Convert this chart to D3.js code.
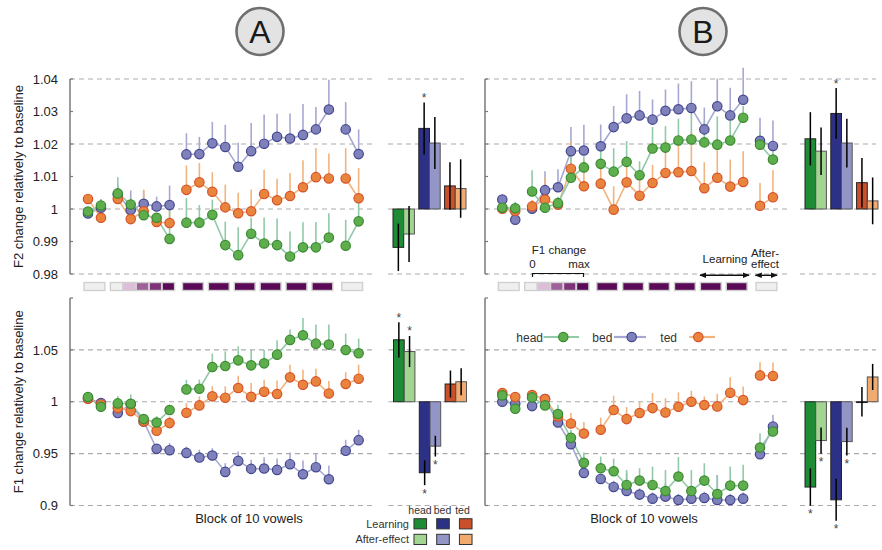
<!DOCTYPE html>
<html lang="en">
<head>
<meta charset="UTF-8">
<title>F1 / F2 change relatively to baseline</title>
<script src="https://cdn.jsdelivr.net/npm/d3@7"></script>
<style>
    body { margin: 0; background: #fff; }
    svg { display: block; font-family: "Liberation Sans", Arial, sans-serif; }
    .tick-label { font-size: 13px; fill: #222; }
    .axis-title { font-size: 13px; fill: #222; }
    .legend { font-size: 11px; fill: #333; }
</style>
</head>
<body>
<script>
    /*------------------- data -------------------*/
    // blocks of 10 vowels, split in baseline / ramp / learning / after-effect
    const blocks = [1, 2, 3, 4, 5, 6, 7, 8, 9, 10, 11, 12, 13, 14, 15, 16, 17, 18, 19, 20, 21];
    const blockGroups = [[1, 2], [3, 4, 5, 6, 7], [8, 9, 10, 11, 12, 13, 14, 15, 16, 17, 18, 19], [20, 21]];
    const vowels = ["head", "bed", "ted"];

    // panel A, F2
    const aF2Head = [0.9992, 1.0011, 1.0048, 1.0014, 0.9981, 0.9973, 0.9908, 0.9958, 0.9958, 0.9982, 0.9889, 0.9858, 0.9924, 0.9894, 0.9889, 0.9854, 0.9882, 0.9882, 0.9912, 0.9887, 0.9962];
    const aF2HeadErr = [0.001, 0.002, 0.005, 0.002, 0.002, 0.001, 0.0085, 0.0076, 0.0054, 0.0047, 0.0072, 0.0086, 0.0049, 0.008, 0.0082, 0.0077, 0.0077, 0.0078, 0.0075, 0.008, 0.0075];
    const aF2Bed = [0.9986, 1.0004, 1.0045, 0.9997, 1.0016, 1.0008, 1.0012, 1.0168, 1.0169, 1.0202, 1.0191, 1.0130, 1.0178, 1.0201, 1.0222, 1.0217, 1.0228, 1.0245, 1.0306, 1.0245, 1.0169];
    const aF2BedErr = [0.001, 0.0026, 0.003, 0.006, 0.004, 0.003, 0.006, 0.0065, 0.0053, 0.0066, 0.0068, 0.0074, 0.0087, 0.009, 0.0071, 0.0077, 0.0095, 0.0069, 0.0092, 0.0084, 0.0076];
    const aF2Ted = [1.0031, 0.9973, 1.0031, 0.9969, 0.9993, 0.9960, 0.9957, 1.0059, 1.0082, 1.0053, 1.0005, 0.9987, 0.9993, 1.0046, 1.0027, 1.0040, 1.0067, 1.0098, 1.0094, 1.0094, 1.0033];
    const aF2TedErr = [0.0013, 0.001, 0.003, 0.002, 0.0067, 0.002, 0.004, 0.0075, 0.006, 0.006, 0.007, 0.0063, 0.0067, 0.0075, 0.0066, 0.0071, 0.0083, 0.009, 0.0077, 0.0093, 0.0093];

    // panel A, F1
    const aF1Head = [1.0045, 0.9952, 0.9984, 0.9981, 0.9833, 0.9800, 0.9920, 1.0119, 1.0126, 1.0335, 1.0344, 1.0399, 1.0351, 1.0370, 1.0454, 1.0596, 1.0641, 1.0560, 1.0551, 1.0499, 1.0467];
    const aF1HeadErr = [0.002, 0.002, 0.007, 0.009, 0.003, 0.006, 0.005, 0.0093, 0.0087, 0.0129, 0.0142, 0.0135, 0.015, 0.013, 0.0138, 0.01, 0.0167, 0.0184, 0.0193, 0.0158, 0.0142];
    const aF1Bed = [1.0032, 0.9987, 0.9891, 0.9977, 0.9810, 0.9546, 0.9533, 0.9507, 0.9462, 0.9482, 0.9324, 0.9430, 0.9353, 0.9356, 0.9343, 0.9398, 0.9301, 0.9369, 0.9253, 0.9527, 0.9630];
    const aF1BedErr = [0.001, 0.002, 0.002, 0.002, 0.004, 0.003, 0.007, 0.006, 0.0074, 0.007, 0.0084, 0.009, 0.0087, 0.011, 0.011, 0.0113, 0.0132, 0.0135, 0.0129, 0.0106, 0.01];
    const aF1Ted = [1.0029, 0.9974, 0.9939, 0.9910, 0.9810, 0.9720, 0.9794, 0.9894, 0.9965, 1.0052, 1.0039, 1.0132, 1.0048, 1.0097, 1.0074, 1.0235, 1.0164, 1.0196, 1.0080, 1.0171, 1.0222];
    const aF1TedErr = [0.001, 0.001, 0.003, 0.003, 0.003, 0.003, 0.0064, 0.0093, 0.0087, 0.0097, 0.011, 0.0119, 0.0132, 0.0116, 0.013, 0.0122, 0.0145, 0.0122, 0.0119, 0.0113, 0.0135];

    // panel B, F2
    const bF2Head = [1.0004, 1.0002, 1.0054, 1.0004, 1.0018, 1.0096, 1.0128, 1.0139, 1.0115, 1.0145, 1.0104, 1.0186, 1.0189, 1.0211, 1.0214, 1.0205, 1.0198, 1.0211, 1.0281, 1.0198, 1.0152];
    const bF2HeadErr = [0.001, 0.002, 0.0065, 0.002, 0.002, 0.0067, 0.0034, 0.0065, 0.0072, 0.0064, 0.0043, 0.0066, 0.0066, 0.0067, 0.0082, 0.0061, 0.0087, 0.006, 0.0036, 0.004, 0.004];
    const bF2Bed = [1.0029, 0.9967, 1.0001, 1.0058, 1.0067, 1.0178, 1.0180, 1.0193, 1.0252, 1.0279, 1.0288, 1.0275, 1.0302, 1.0307, 1.0311, 1.0245, 1.0316, 1.0288, 1.0336, 1.0210, 1.0194];
    const bF2BedErr = [0.001, 0.001, 0.002, 0.0058, 0.0055, 0.0074, 0.0079, 0.0067, 0.0065, 0.0074, 0.0075, 0.0062, 0.0066, 0.0079, 0.0082, 0.0067, 0.0085, 0.0085, 0.0099, 0.0071, 0.0078];
    const bF2Ted = [1.0001, 0.9994, 1.0008, 1.0029, 1.0013, 1.0124, 1.0070, 1.0078, 0.9998, 1.0082, 1.0041, 1.0080, 1.0111, 1.0113, 1.0117, 1.0064, 1.0096, 1.0069, 1.0083, 1.0010, 1.0036];
    const bF2TedErr = [0.001, 0.001, 0.002, 0.0067, 0.002, 0.0084, 0.0082, 0.0074, 0.0072, 0.007, 0.007, 0.0056, 0.0100, 0.01, 0.012, 0.008, 0.012, 0.0083, 0.0095, 0.007, 0.0083];

    // panel B, F1
    const bF1Head = [1.0061, 0.9932, 1.0042, 0.9965, 0.9881, 0.9652, 0.9411, 0.9359, 0.9330, 0.9198, 0.9240, 0.9198, 0.9140, 0.9279, 0.9140, 0.9240, 0.9111, 0.9192, 0.9192, 0.9559, 0.9713];
    const bF1HeadErr = [0.001, 0.001, 0.001, 0.002, 0.009, 0.0077, 0.01, 0.0113, 0.0122, 0.0145, 0.0119, 0.0177, 0.0203, 0.0187, 0.0203, 0.0167, 0.0184, 0.0184, 0.02, 0.0138, 0.008];
    const bF1Bed = [1.0000, 0.9984, 0.9958, 1.0026, 0.9800, 0.9591, 0.9314, 0.9256, 0.9179, 0.9140, 0.9105, 0.9066, 0.9086, 0.9053, 0.9066, 0.9073, 0.9053, 0.9053, 0.9066, 0.9495, 0.9762];
    const bF1BedErr = [0.001, 0.001, 0.001, 0.002, 0.003, 0.004, 0.004, 0.005, 0.006, 0.0171, 0.006, 0.006, 0.0129, 0.006, 0.006, 0.006, 0.0241, 0.006, 0.006, 0.006, 0.011];
    const bF1Ted = [1.0084, 1.0045, 1.0064, 1.0026, 0.9858, 0.9791, 0.9694, 0.9730, 0.9920, 0.9833, 0.9891, 0.9939, 0.9897, 0.9952, 1.0000, 0.9968, 0.9955, 1.0087, 1.0016, 1.0254, 1.0248];
    const bF1TedErr = [0.001, 0.001, 0.002, 0.003, 0.003, 0.010, 0.011, 0.0116, 0.0138, 0.0116, 0.0113, 0.0145, 0.0138, 0.0138, 0.0106, 0.0084, 0.0122, 0.015, 0.013, 0.0126, 0.013];

    // bar summaries: learning / after-effect, order head, bed, ted
    const aF2Learn = [0.9882, 1.0248, 1.0071], aF2LearnErr = [0.0073, 0.008, 0.0073], aF2LearnSig = [0, 1, 0];
    const aF2After = [0.9923, 1.0203, 1.0063], aF2AfterErr = [0.0086, 0.008, 0.009], aF2AfterSig = [0, 0, 0];
    const aF1Learn = [1.0597, 0.9316, 1.0171], aF1LearnErr = [0.017, 0.012, 0.013], aF1LearnSig = [1, 1, 0];
    const aF1After = [1.0484, 0.9572, 1.0193], aF1AfterErr = [0.015, 0.010, 0.013], aF1AfterSig = [1, 1, 0];
    const bF2Learn = [1.0216, 1.0294, 1.0081], bF2LearnErr = [0.0082, 0.0078, 0.0076], bF2LearnSig = [0, 1, 0];
    const bF2After = [1.0178, 1.0203, 1.0025], bF2AfterErr = [0.0073, 0.0075, 0.0072], bF2AfterSig = [0, 0, 0];
    const bF1Learn = [0.9178, 0.9055, 1.0000], bF1LearnErr = [0.018, 0.0203, 0.0142], bF1LearnSig = [1, 1, 0];
    const bF1After = [0.9626, 0.9616, 1.0239], bF1AfterErr = [0.0126, 0.0134, 0.0126], bF1AfterSig = [1, 1, 0];

    // F1 perturbation strip (0 = none, 1 = max)
    const stripCells = [[1, 2], [3], [4], [5], [6], [7], [8, 9], [10, 11], [12, 13], [14, 15], [16, 17], [18, 19], [20, 21]];
    const stripLevels = [0, 0, 0.25, 0.5, 0.75, 1, 1, 1, 1, 1, 1, 1, 0];

    // axes
    const f2Ticks = [0.98, 0.99, 1, 1.01, 1.02, 1.03, 1.04];
    const f2Grid = [0.98, 1, 1.02, 1.04];
    const f1Ticks = [0.9, 0.95, 1, 1.05, 1.1];
    const f1Grid = [0.9, 0.95, 1, 1.05];

    /*------------------- styles -------------------*/
    const col = {
        head: { fill: "#5fae4e", stroke: "#3a8a30", line: "#92c9a8" },
        bed: { fill: "#7f81bb", stroke: "#43468e", line: "#a7a8d1" },
        ted: { fill: "#e9843d", stroke: "#d6522a", line: "#f2b47e" }
    };
    const barCol = { head: ["#1e8c35", "#a2d592"], bed: ["#2c3185", "#9395c7"], ted: ["#c9502a", "#f1aa70"] };
    const stripColor = d3.scaleLinear()
        .domain([0, 0.25, 0.5, 0.75, 1])
        .range(["#efefef", "#ddbdd8", "#a0609a", "#7e3378", "#5a0a57"]);

    const svg = d3.select("body").append("svg").attr("width", 882).attr("height", 550);

    svg.append("defs").append("marker")
        .attr("id", "arr").attr("viewBox", "0 0 10 10").attr("refX", 9).attr("refY", 5)
        .attr("markerWidth", 5).attr("markerHeight", 5).attr("orient", "auto-start-reverse")
        .append("path").attr("d", "M0,1 L10,5 L0,9 z").attr("fill", "#111");

    const yF2 = d3.scaleLinear().domain([0.98, 1.04]).range([274, 79]);
    const yF1 = d3.scaleLinear().domain([0.9, 1.1]).range([505.5, 298]);

    // block -> position, with a small gap between the phases
    const gapAfter = [2, 7, 19];
    const blockPos = b => b - 1 + 0.3 * gapAfter.filter(g => b > g).length;
    const makeX = x0 => d3.scaleLinear().domain([0, 20.9]).range([x0, x0 + 20.9 * 12.95]);

    function gridAndAxis(axisX, y, ticks, grid, labels) {
        const g = svg.append("g");
        g.selectAll(".grid").data(grid).enter().append("line")
            .attr("x1", axisX).attr("x2", axisX + 302)
            .attr("y1", d => y(d)).attr("y2", d => y(d))
            .attr("stroke", "#ababab").attr("stroke-width", 1.2).attr("stroke-dasharray", "5,4");
        g.append("line")
            .attr("x1", axisX).attr("x2", axisX)
            .attr("y1", y.range()[1]).attr("y2", y.range()[0])
            .attr("stroke", "#7a7a7a").attr("stroke-width", 1.5);
        g.selectAll(".tk").data(ticks).enter().append("line")
            .attr("x1", axisX).attr("x2", axisX + 3)
            .attr("y1", d => y(d)).attr("y2", d => y(d))
            .attr("stroke", "#7a7a7a").attr("stroke-width", 1.2);
        if (labels) {
            // the top F1 tick (1.1) has no label
            g.selectAll(".tl").data(ticks.filter(d => d < 1.1))
                .enter().append("text")
                .attr("class", "tick-label")
                .attr("x", axisX - 12).attr("y", d => y(d)).attr("dy", "0.36em")
                .attr("text-anchor", "end")
                .text(d => d3.format("")(d));
        }
    }

    function seriesPanel(x, y, series) {
        const g = svg.append("g");
        const line = d3.line().x(d => x(blockPos(d.b))).y(d => y(d.v));
        series.forEach(s => {
            const pts = blocks.map((b, i) => ({ b: b, v: s.v[i], e: s.e[i] }));
            blockGroups.forEach(grp => {
                g.append("path")
                    .datum(pts.filter(p => grp.includes(p.b)))
                    .attr("d", line)
                    .attr("fill", "none").attr("stroke", col[s.key].line).attr("stroke-width", 1.6);
            });
            g.selectAll(null).data(pts).enter().append("line")
                .attr("x1", d => x(blockPos(d.b))).attr("x2", d => x(blockPos(d.b)))
                .attr("y1", d => y(d.v)).attr("y2", d => y(d.v + d.e))
                .attr("stroke", col[s.key].line).attr("stroke-width", 1.6);
        });
        series.forEach(s => {
            g.selectAll(null).data(blocks.map((b, i) => ({ b: b, v: s.v[i] }))).enter().append("circle")
                .attr("cx", d => x(blockPos(d.b))).attr("cy", d => y(d.v)).attr("r", 4.7)
                .attr("fill", col[s.key].fill).attr("stroke", col[s.key].stroke).attr("stroke-width", 1.2);
        });
    }

    function barPanel(bx0, y, learn, learnErr, learnSig, after, afterErr, afterSig, grid) {
        const g = svg.append("g");
        g.selectAll(null).data(grid).enter().append("line")
            .attr("x1", bx0 - 5).attr("x2", bx0 + 71)
            .attr("y1", d => y(d)).attr("y2", d => y(d))
            .attr("stroke", "#ababab").attr("stroke-width", 1.2).attr("stroke-dasharray", "5,4");
        const xb = d3.scaleBand().domain(vowels).range([bx0, bx0 + 73]).paddingInner(0.17);
        const xs = d3.scaleBand().domain([0, 1]).range([0, xb.bandwidth()]);
        const rows = [];
        vowels.forEach((v, i) => {
            rows.push({ v: v, k: 0, m: learn[i], e: learnErr[i], s: learnSig[i] });
            rows.push({ v: v, k: 1, m: after[i], e: afterErr[i], s: afterSig[i] });
        });
        const bx = d => xb(d.v) + xs(d.k);
        g.selectAll(null).data(rows).enter().append("rect")
            .attr("x", bx).attr("width", xs.bandwidth())
            .attr("y", d => Math.min(y(d.m), y(1)))
            .attr("height", d => Math.max(Math.abs(y(d.m) - y(1)), 0.8))
            .attr("fill", d => barCol[d.v][d.k])
            .attr("stroke", d => d.k === 0 ? "#222" : "#555").attr("stroke-width", 1);
        g.selectAll(null).data(rows).enter().append("line")
            .attr("x1", d => bx(d) + xs.bandwidth() / 2).attr("x2", d => bx(d) + xs.bandwidth() / 2)
            .attr("y1", d => y(d.m - d.e)).attr("y2", d => y(d.m + d.e))
            .attr("stroke", "#000").attr("stroke-width", 1.5);
        g.selectAll(null).data(rows.filter(d => d.s)).enter().append("text")
            .attr("x", d => bx(d) + xs.bandwidth() / 2)
            .attr("y", d => d.m >= 1 ? y(d.m + d.e) - 0.5 : y(d.m - d.e) + 12.5)
            .attr("text-anchor", "middle").attr("font-size", 12).attr("fill", "#444")
            .text("*");
    }

    function strip(x, top) {
        const g = svg.append("g");
        const cells = stripCells.map((c, i) => {
            const cx = d3.mean(c, b => x(blockPos(b)));
            const w = c.length === 2 ? 20.8 : 12.4;
            const off = c.length === 2 ? 0 : -1.2;
            return { x: cx - w / 2 + off, w: w, level: stripLevels[i] };
        });
        g.selectAll(null).data(cells).enter().append("rect")
            .attr("x", d => d.x).attr("y", top).attr("width", d => d.w).attr("height", 8)
            .attr("fill", d => stripColor(d.level))
            .attr("stroke", "#d0d0d0").attr("stroke-width", 1.4);
    }

    function title(cx, letter) {
        svg.append("circle").attr("cx", cx).attr("cy", 31.5).attr("r", 23.5)
            .attr("fill", "#e3e3e3").attr("stroke", "#6f6f6f").attr("stroke-width", 2.6);
        svg.append("text").attr("x", cx).attr("y", 43).attr("text-anchor", "middle")
            .attr("font-size", 32).attr("fill", "#1a1a1a").text(letter);
    }

    /*------------------- panel A -------------------*/
    const xA = makeX(88);
    gridAndAxis(70, yF2, f2Ticks, f2Grid, true);
    gridAndAxis(70, yF1, f1Ticks, f1Grid, true);
    seriesPanel(xA, yF2, [
        { key: "bed", v: aF2Bed, e: aF2BedErr },
        { key: "ted", v: aF2Ted, e: aF2TedErr },
        { key: "head", v: aF2Head, e: aF2HeadErr }]);
    seriesPanel(xA, yF1, [
        { key: "bed", v: aF1Bed, e: aF1BedErr },
        { key: "ted", v: aF1Ted, e: aF1TedErr },
        { key: "head", v: aF1Head, e: aF1HeadErr }]);
    barPanel(393, yF2, aF2Learn, aF2LearnErr, aF2LearnSig, aF2After, aF2AfterErr, aF2AfterSig, f2Grid);
    barPanel(393.5, yF1, aF1Learn, aF1LearnErr, aF1LearnSig, aF1After, aF1AfterErr, aF1AfterSig, f1Grid);
    strip(xA, 282.5);
    title(260, "A");

    /*------------------- panel B -------------------*/
    const xB = makeX(502.3);
    gridAndAxis(485, yF2, f2Ticks, f2Grid, false);
    gridAndAxis(485, yF1, f1Ticks, f1Grid, false);
    seriesPanel(xB, yF2, [
        { key: "bed", v: bF2Bed, e: bF2BedErr },
        { key: "ted", v: bF2Ted, e: bF2TedErr },
        { key: "head", v: bF2Head, e: bF2HeadErr }]);
    seriesPanel(xB, yF1, [
        { key: "bed", v: bF1Bed, e: bF1BedErr },
        { key: "ted", v: bF1Ted, e: bF1TedErr },
        { key: "head", v: bF1Head, e: bF1HeadErr }]);
    barPanel(805, yF2, bF2Learn, bF2LearnErr, bF2LearnSig, bF2After, bF2AfterErr, bF2AfterSig, f2Grid);
    barPanel(805, yF1, bF1Learn, bF1LearnErr, bF1LearnSig, bF1After, bF1AfterErr, bF1AfterSig, f1Grid);
    strip(xB, 282.5);
    title(703, "B");

    /*------------------- axis titles -------------------*/
    svg.append("text").attr("class", "axis-title")
        .attr("transform", "translate(23," + (yF2.range()[0] + yF2.range()[1]) / 2 + ") rotate(-90)")
        .attr("text-anchor", "middle").text("F2 change relatively to baseline");
    svg.append("text").attr("class", "axis-title")
        .attr("transform", "translate(23," + (yF1.range()[0] + yF1.range()[1]) / 2 + ") rotate(-90)")
        .attr("text-anchor", "middle").text("F1 change relatively to baseline");
    svg.append("text").attr("class", "axis-title").attr("x", 249).attr("y", 522.5)
        .attr("text-anchor", "middle").text("Block of 10 vowels");
    svg.append("text").attr("class", "axis-title").attr("x", 644).attr("y", 522.5)
        .attr("text-anchor", "middle").text("Block of 10 vowels");

    /*------------------- F1 change annotation (B) -------------------*/
    const ann = svg.append("g").attr("font-size", 11.5).attr("fill", "#222");
    ann.append("text").attr("x", 559).attr("y", 254).attr("text-anchor", "middle").text("F1 change");
    ann.append("text").attr("x", 532.5).attr("y", 268).attr("text-anchor", "middle").text("0");
    ann.append("text").attr("x", 579).attr("y", 268).attr("text-anchor", "middle").text("max");
    ann.append("path").attr("d", "M532.5,277 V273.5 H583.5 V277")
        .attr("fill", "none").attr("stroke", "#111").attr("stroke-width", 1.2);
    ann.append("text").attr("x", 725).attr("y", 263).attr("text-anchor", "middle").text("Learning");
    ann.append("text").attr("x", 765).attr("y", 256.5).attr("text-anchor", "middle").text("After-");
    ann.append("text").attr("x", 765).attr("y", 268).attr("text-anchor", "middle").text("effect");
    [[700, 749], [755.5, 777]].forEach(a => {
        ann.append("line").attr("x1", a[0]).attr("x2", a[1]).attr("y1", 275.3).attr("y2", 275.3)
            .attr("stroke", "#111").attr("stroke-width", 1.4)
            .attr("marker-start", "url(#arr)").attr("marker-end", "url(#arr)");
    });

    /*------------------- legends -------------------*/
    const lg = svg.append("g").attr("class", "legend");
    const swX = d3.scaleBand().domain(vowels).range([413, 473]).paddingInner(0.36);
    const headerX = { head: 420, bed: 442.5, ted: 462.5 };
    lg.selectAll(null).data(vowels).enter().append("text")
        .attr("x", d => headerX[d]).attr("y", 514)
        .attr("text-anchor", "middle").attr("font-size", 10.5).text(d => d);
    ["Learning", "After-effect"].forEach((lab, k) => {
        const yy = 518.7 + k * 15.6;
        lg.append("text").attr("x", 409).attr("y", yy + 9).attr("text-anchor", "end").text(lab);
        lg.selectAll(null).data(vowels).enter().append("rect")
            .attr("x", d => swX(d) + swX.bandwidth() / 2 - 6.3).attr("y", yy)
            .attr("width", 12.6).attr("height", 10.2)
            .attr("fill", d => barCol[d][k]).attr("stroke", "#333").attr("stroke-width", 1);
    });

    const lineLegend = [
        { key: "head", tx: 543, anchor: "end", x1: 543.5, x2: 579, m: 563.3 },
        { key: "bed", tx: 592.3, anchor: "start", x1: 614, x2: 646, m: 631.7 },
        { key: "ted", tx: 660.3, anchor: "start", x1: 689.3, x2: 715, m: 698.3 }
    ];
    const ll = svg.append("g");
    lineLegend.forEach(d => {
        ll.append("text").attr("x", d.tx).attr("y", 341.5).attr("text-anchor", d.anchor)
            .attr("font-size", 12).attr("fill", "#333").text(d.key);
        ll.append("line").attr("x1", d.x1).attr("x2", d.x2).attr("y1", 337).attr("y2", 337)
            .attr("stroke", col[d.key].line).attr("stroke-width", 2.2);
        ll.append("circle").attr("cx", d.m).attr("cy", 337).attr("r", 4.7)
            .attr("fill", col[d.key].fill).attr("stroke", col[d.key].stroke).attr("stroke-width", 1.2);
    });
</script>
</body>
</html>
